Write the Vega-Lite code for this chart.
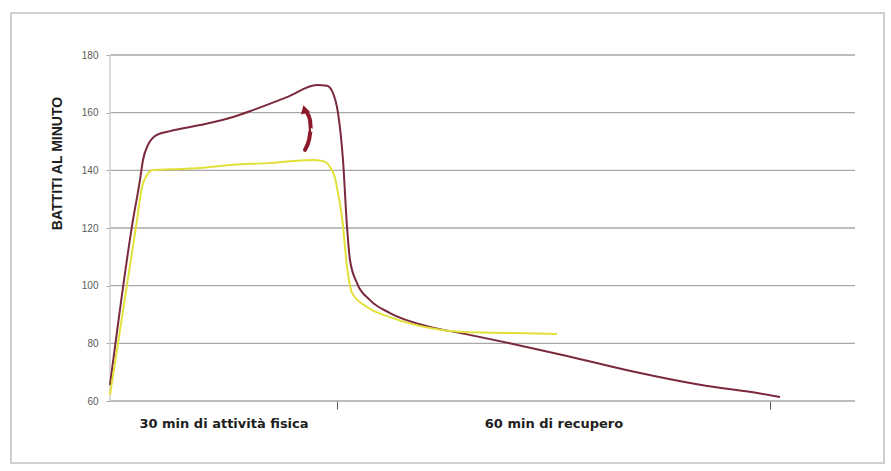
{
  "$schema": "https://vega.github.io/schema/vega-lite/v6.json",
  "autosize": "none",
  "width": 873,
  "height": 450,
  "padding": {"left": 11, "top": 13, "right": 7, "bottom": 8},
  "background": "white",
  "config": {
    "view": {"stroke": "#cfcfcf", "strokeWidth": 2},
    "font": "Liberation Sans"
  },
  "datasets": {
    "battiti": [
      {"min": 0, "bpm": 65.5, "serie": "non allenato"},
      {"min": 3.04, "bpm": 122.8, "serie": "non allenato"},
      {"min": 3.96, "bpm": 136.6, "serie": "non allenato"},
      {"min": 4.36, "bpm": 143.6, "serie": "non allenato"},
      {"min": 5.02, "bpm": 148.8, "serie": "non allenato"},
      {"min": 6.21, "bpm": 152.3, "serie": "non allenato"},
      {"min": 7.93, "bpm": 153.6, "serie": "non allenato"},
      {"min": 11.89, "bpm": 155.7, "serie": "non allenato"},
      {"min": 16.26, "bpm": 158.5, "serie": "non allenato"},
      {"min": 18.9, "bpm": 160.9, "serie": "non allenato"},
      {"min": 23.39, "bpm": 165.4, "serie": "non allenato"},
      {"min": 27.36, "bpm": 169.6, "serie": "non allenato"},
      {"min": 28.68, "bpm": 169.3, "serie": "non allenato"},
      {"min": 29.47, "bpm": 166.8, "serie": "non allenato"},
      {"min": 30.14, "bpm": 159.9, "serie": "non allenato"},
      {"min": 30.83, "bpm": 143.6, "serie": "non allenato"},
      {"min": 31.39, "bpm": 120.3, "serie": "non allenato"},
      {"min": 31.8, "bpm": 108.9, "serie": "non allenato"},
      {"min": 32.77, "bpm": 100.9, "serie": "non allenato"},
      {"min": 34.57, "bpm": 95.0, "serie": "non allenato"},
      {"min": 37.34, "bpm": 90.5, "serie": "non allenato"},
      {"min": 42.88, "bpm": 85.7, "serie": "non allenato"},
      {"min": 47.46, "bpm": 83.4, "serie": "non allenato"},
      {"min": 54.39, "bpm": 79.8, "serie": "non allenato"},
      {"min": 61.87, "bpm": 75.6, "serie": "non allenato"},
      {"min": 71.02, "bpm": 70.2, "serie": "non allenato"},
      {"min": 80.3, "bpm": 65.6, "serie": "non allenato"},
      {"min": 88.62, "bpm": 62.6, "serie": "non allenato"},
      {"min": 91.39, "bpm": 61.4, "serie": "non allenato"},
      {"min": 0, "bpm": 62.1, "serie": "allenato"},
      {"min": 3.57, "bpm": 122.8, "serie": "allenato"},
      {"min": 4.23, "bpm": 134.2, "serie": "allenato"},
      {"min": 4.89, "bpm": 138.4, "serie": "allenato"},
      {"min": 5.68, "bpm": 140.1, "serie": "allenato"},
      {"min": 9.25, "bpm": 140.5, "serie": "allenato"},
      {"min": 11.89, "bpm": 140.8, "serie": "allenato"},
      {"min": 16.26, "bpm": 141.9, "serie": "allenato"},
      {"min": 20.75, "bpm": 142.5, "serie": "allenato"},
      {"min": 26.83, "bpm": 143.6, "serie": "allenato"},
      {"min": 28.15, "bpm": 143.2, "serie": "allenato"},
      {"min": 29.07, "bpm": 141.2, "serie": "allenato"},
      {"min": 29.74, "bpm": 137.3, "serie": "allenato"},
      {"min": 30.14, "bpm": 132.1, "serie": "allenato"},
      {"min": 30.69, "bpm": 123.8, "serie": "allenato"},
      {"min": 31.39, "bpm": 106.5, "serie": "allenato"},
      {"min": 32.08, "bpm": 97.5, "serie": "allenato"},
      {"min": 34.16, "bpm": 92.6, "serie": "allenato"},
      {"min": 37.34, "bpm": 89.1, "serie": "allenato"},
      {"min": 42.88, "bpm": 85.3, "serie": "allenato"},
      {"min": 47.46, "bpm": 83.9, "serie": "allenato"},
      {"min": 54.39, "bpm": 83.6, "serie": "allenato"},
      {"min": 60.49, "bpm": 83.2, "serie": "allenato"}
    ],
    "griglia": [
      {"bpm": 60}, {"bpm": 80}, {"bpm": 100}, {"bpm": 120},
      {"bpm": 140}, {"bpm": 160}, {"bpm": 180}
    ],
    "freccia": [
      {"min": 25.77, "bpm": 147.1, "ordine": 1},
      {"min": 26.3, "bpm": 150.5, "ordine": 2},
      {"min": 26.56, "bpm": 154.0, "ordine": 3},
      {"min": 26.43, "bpm": 157.5, "ordine": 4},
      {"min": 26.04, "bpm": 159.9, "ordine": 5}
    ],
    "punta": [
      {"min": 25.7, "bpm": 161.2}
    ]
  },
  "layer": [
    {
      "data": {"name": "griglia"},
      "mark": {"type": "rule", "color": "#a8a8a8", "strokeWidth": 1.3},
      "encoding": {
        "y": {"field": "bpm", "type": "quantitative", "title": "BATTITI AL MINUTO"},
        "x": {"datum": 0, "type": "quantitative", "title": null},
        "x2": {"datum": 101.78}
      }
    },
    {
      "data": {"values": [{"da": 60, "a": 180}]},
      "mark": {"type": "rule", "color": "#cfcfcf", "strokeWidth": 1.5},
      "encoding": {
        "x": {"datum": 0, "type": "quantitative", "title": null},
        "y": {"field": "da", "type": "quantitative", "title": "BATTITI AL MINUTO"},
        "y2": {"field": "a"}
      }
    },
    {
      "data": {"name": "battiti"},
      "mark": {"type": "line", "interpolate": "monotone", "strokeWidth": 2},
      "encoding": {
        "x": {
          "field": "min",
          "type": "quantitative",
          "scale": {"type": "linear", "domain": [0, 30, 90, 101.78], "range": [99, 326, 759, 844], "nice": false, "zero": false},
          "axis": {
            "title": null,
            "offset": -62,
            "values": [15, 30, 60, 90],
            "labelExpr": "datum.value == 15 ? '30 min di attività fisica' : datum.value == 60 ? '60 min di recupero' : ''",
            "labelFont": "DejaVu Sans",
            "labelFontSize": 13,
            "labelFontWeight": "bold",
            "labelColor": "#1e1e1e",
            "labelPadding": 8,
            "tickSize": 8,
            "tickColor": "#555555",
            "tickOpacity": {"condition": {"test": "datum.value == 15 || datum.value == 60", "value": 0}, "value": 1},
            "domain": false,
            "grid": false
          }
        },
        "y": {
          "field": "bpm",
          "type": "quantitative",
          "scale": {"domain": [60, 180], "range": [388, 42], "nice": false, "zero": false},
          "axis": {
            "title": "BATTITI AL MINUTO",
            "offset": -99,
            "titleFont": "Liberation Sans",
            "titleFontSize": 14,
            "titleFontWeight": "bold",
            "titleColor": "#1e1e1e",
            "titleAngle": -90,
            "titleAlign": "center",
            "titleBaseline": "middle",
            "titleX": -53,
            "titleY": 150,
            "values": [60, 80, 100, 120, 140, 160, 180],
            "labelFontSize": 10,
            "labelColor": "#5a5a5a",
            "labelPadding": 8,
            "tickSize": 4,
            "tickColor": "#a8a8a8",
            "domain": false,
            "grid": false
          }
        },
        "color": {
          "field": "serie",
          "type": "nominal",
          "scale": {"domain": ["non allenato", "allenato"], "range": ["#7a2a3c", "#e1e13a"]},
          "legend": null
        },
        "order": {"field": "min", "type": "quantitative"}
      }
    },
    {
      "data": {"name": "freccia"},
      "mark": {"type": "line", "interpolate": "monotone", "strokeWidth": 4, "color": "#8c1a2b", "strokeCap": "round"},
      "encoding": {
        "x": {"field": "min", "type": "quantitative", "title": null},
        "y": {"field": "bpm", "type": "quantitative", "title": "BATTITI AL MINUTO"},
        "order": {"field": "ordine", "type": "quantitative"}
      }
    },
    {
      "data": {"name": "punta"},
      "mark": {"type": "point", "shape": "triangle-up", "filled": true, "size": 90, "color": "#8c1a2b", "opacity": 1, "angle": -15},
      "encoding": {
        "x": {"field": "min", "type": "quantitative", "title": null},
        "y": {"field": "bpm", "type": "quantitative", "title": "BATTITI AL MINUTO"}
      }
    }
  ]
}
